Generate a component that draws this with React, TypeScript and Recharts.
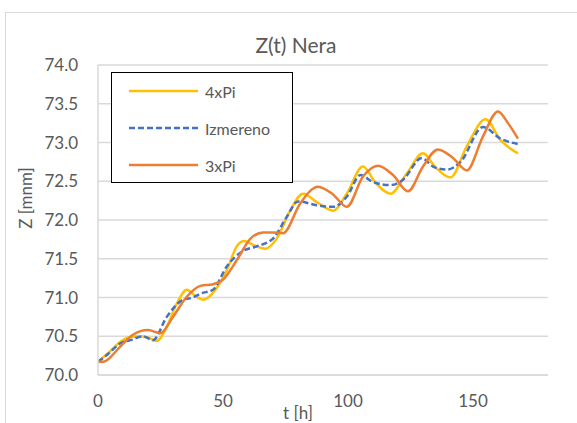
import { LineChart, Line, XAxis, YAxis, CartesianGrid, Legend } from 'recharts';

// 4xPi
const tPi4 = [0, 4, 9, 13, 17, 20, 23.5, 27.5, 31.5, 35.5, 39, 42, 47, 51.5, 55.5, 58.5, 62, 67, 71.5, 77, 82, 88, 94, 99.5, 106, 111, 117, 123.5, 130, 135, 141, 147.5, 155, 161, 168];
const zPi4 = [70.17, 70.28, 70.43, 70.49, 70.5, 70.48, 70.44, 70.62, 70.92, 71.1, 71.02, 70.97, 71.1, 71.35, 71.66, 71.73, 71.68, 71.63, 71.76, 72.13, 72.34, 72.22, 72.12, 72.34, 72.69, 72.48, 72.34, 72.6, 72.86, 72.68, 72.55, 72.95, 73.3, 73.03, 72.86];

// Izmereno
const tMeas = [0, 4, 9, 13, 18, 22, 27.5, 34, 38, 41, 46, 51.5, 58, 63.5, 70, 75.5, 80, 87.5, 94, 99.5, 105, 110, 117, 122, 129.5, 134, 139.5, 145, 154, 161, 168];
const zMeas = [70.17, 70.27, 70.41, 70.45, 70.5, 70.45, 70.75, 70.97, 71.0, 71.05, 71.1, 71.4, 71.6, 71.66, 71.76, 72.04, 72.24, 72.19, 72.17, 72.3, 72.58, 72.49, 72.45, 72.52, 72.8, 72.69, 72.65, 72.75, 73.2, 73.05, 72.98];

// 3xPi
const tPi3 = [0, 2, 9, 14, 20, 25, 30, 35.5, 41, 46, 50, 55.5, 61, 66, 70, 74, 81, 88, 94, 99.5, 106, 112, 118, 124, 130, 136, 142, 147.5, 154, 160, 164, 168];
const zPi3 = [70.17, 70.17, 70.37, 70.52, 70.58, 70.54, 70.75, 71.01, 71.15, 71.17, 71.23, 71.48, 71.76, 71.84, 71.84, 71.83, 72.22, 72.43, 72.33, 72.17, 72.56, 72.7, 72.58, 72.37, 72.69, 72.91, 72.8, 72.64, 73.08, 73.4, 73.25, 73.05];

const xTicks = [0, 50, 100, 150];
const yTicks = [70, 70.5, 71, 71.5, 72, 72.5, 73, 73.5, 74];

const toPoints = (t: number[], z: number[]) => t.map((x, i) => ({ t: x, z: z[i] }));

const series = [
  { name: '4xPi', color: '#FFC000', dash: undefined, data: toPoints(tPi4, zPi4) },
  { name: 'Izmereno', color: '#4472C4', dash: '6 3', data: toPoints(tMeas, zMeas) },
  { name: '3xPi', color: '#ED7D31', dash: undefined, data: toPoints(tPi3, zPi3) },
];

const font = 'Lato, "Liberation Sans", sans-serif';
const textColor = '#595959';

function LegendBox() {
  return (
    <svg width={180} height={109}>
      {series.map((s, i) => (
        <g key={s.name}>
          <line x1={17} x2={86} y1={18 + i * 37} y2={18 + i * 37} stroke={s.color} strokeWidth={2.5} strokeDasharray={s.dash} />
          <text x={93} y={18 + i * 37} dominantBaseline="central" fontSize={16} fill={textColor} fontFamily={font}>
            {s.name}
          </text>
        </g>
      ))}
    </svg>
  );
}

export default function App() {
  return (
    <div style={{ position: 'absolute', left: 0, top: 0, width: 577, height: 423, overflow: 'hidden', background: '#fff', fontFamily: font }}>
      <div style={{ position: 'absolute', left: 5, top: 12, width: 600, height: 500, border: '1px solid #D9D9D9' }} />
      <div style={{ position: 'absolute', left: 0, top: 0 }}>
        <LineChart width={577} height={423} margin={{ top: 65, right: 29, bottom: 8, left: 38 }}>
          <CartesianGrid vertical={false} stroke="#D9D9D9" strokeWidth={1.5} />
          <XAxis
            type="number"
            dataKey="t"
            domain={[0, 180]}
            ticks={xTicks}
            height={40}
            tickLine={false}
            tickSize={0}
            tickMargin={20}
            axisLine={{ stroke: '#D9D9D9', strokeWidth: 1.5 }}
            tick={{ fontSize: 17, fill: textColor, fontFamily: font }}
            allowDataOverflow
          />
          <YAxis
            type="number"
            domain={[70, 74]}
            ticks={yTicks}
            width={60}
            tickLine={false}
            tickSize={0}
            tickMargin={20}
            axisLine={{ stroke: '#D9D9D9', strokeWidth: 1.5 }}
            tick={{ fontSize: 17, fill: textColor, fontFamily: font }}
            tickFormatter={(v: number) => v.toFixed(1)}
            allowDataOverflow
          />
          <Legend
            layout="vertical"
            align="center"
            verticalAlign="middle"
            content={() => <LegendBox />}
            wrapperStyle={{ position: 'absolute', left: 111, top: 72, width: 182, height: 111, border: '1px solid #000', background: '#fff', boxSizing: 'border-box' }}
          />
          {series.map((s) => (
            <Line
              key={s.name}
              data={s.data}
              dataKey="z"
              name={s.name}
              type="monotone"
              stroke={s.color}
              strokeWidth={2.5}
              strokeDasharray={s.dash}
              dot={false}
              activeDot={false}
              isAnimationActive={false}
            />
          ))}
        </LineChart>
      </div>
      <div style={{ position: 'absolute', left: 0, width: 592, top: 33, textAlign: 'center', fontSize: 21, lineHeight: '24px', color: textColor }}>
        Z(t) Nera
      </div>
      <div style={{ position: 'absolute', left: 0, width: 596, top: 403, textAlign: 'center', fontSize: 17, lineHeight: '20px', color: textColor }}>
        t [h]
      </div>
      <div
        style={{
          position: 'absolute',
          left: 26,
          top: 198,
          width: 100,
          marginLeft: -50,
          marginTop: -10,
          textAlign: 'center',
          fontSize: 17,
          lineHeight: '20px',
          color: textColor,
          transform: 'rotate(-90deg)',
        }}
      >
        Z [mnm]
      </div>
    </div>
  );
}
